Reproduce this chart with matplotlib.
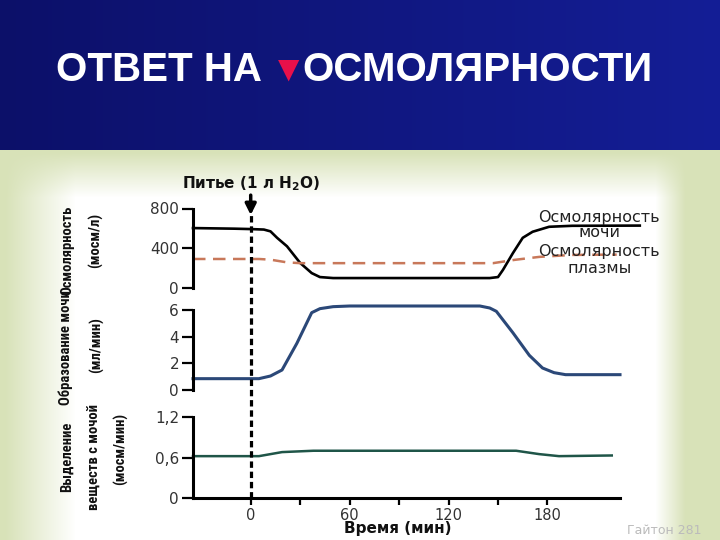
import numpy as np
import matplotlib.pyplot as plt
from matplotlib import font_manager

# osmolarity (mosm/l): urine and plasma
t_osm_urine = [-35, -10, 0, 8, 12, 16, 22, 30, 37, 42, 50, 145, 150, 153, 159, 165, 171, 181, 195, 236]
osm_urine = [603, 597, 593, 588, 570, 505, 420, 252, 150, 110, 100, 100, 110, 182, 350, 505, 566, 616, 626, 628]
t_osm_plasma = [-35, 5, 12, 22, 30, 147, 160, 175, 195, 222]
osm_plasma = [292, 292, 285, 258, 250, 250, 283, 313, 333, 336]

# urine formation (ml/min)
t_flow = [-35, 5, 12, 19, 28, 37, 42, 50, 60, 139, 145, 149, 159, 169, 177, 184, 191, 224]
flow = [0.85, 0.85, 1.05, 1.5, 3.5, 5.8, 6.1, 6.25, 6.3, 6.3, 6.15, 5.9, 4.3, 2.6, 1.65, 1.3, 1.15, 1.15]

# solute excretion (mosm/min)
t_solute = [-35, 5, 19, 38, 161, 175, 187, 219]
solute = [0.62, 0.62, 0.68, 0.70, 0.70, 0.65, 0.62, 0.63]

x_major = [0, 60, 120, 180]
x_minor = [30, 90, 150]
y1_ticks, y1_labels = [0, 400, 800], ['0', '400', '800']
y2_ticks, y2_labels = [0, 2, 4, 6], ['0', '2', '4', '6']
y3_ticks, y3_labels = [0, 0.6, 1.2], ['0', '0,6', '1,2']

W, H = 720, 540
XL = (-35, 224)


def fx(px):
    return px / W


def fy(py):
    return 1 - py / H


# pick a narrow bold face for the rotated axis titles if one is installed
names = {f.name for f in font_manager.fontManager.ttflist}
narrow = None
for cand in ['Liberation Sans Narrow', 'Arial Narrow', 'Roboto Condensed', 'DejaVu Sans Condensed']:
    if cand in names:
        narrow = cand
        break
condensed_dejavu = any(f.name == 'DejaVu Sans' and f.stretch == 'condensed' for f in font_manager.fontManager.ttflist)

fig = plt.figure(figsize=(7.2, 5.4), dpi=100)

# background: navy title band + pale green slide with white centre
yy, xx = np.mgrid[0:H, 0:W].astype(float)
img = np.zeros((H, W, 3))
g = xx / W
navy = np.stack([12 + 8 * g, 16 + 14 * g, 105 + 45 * g], axis=-1) / 255.0
green = np.array([216, 226, 184]) / 255.0
left = np.clip((xx - 5) / 70, 0, 1)
right = np.clip((685 - xx) / 30, 0, 1)
top = np.clip((yy - 152) / 45, 0, 1)
wgt = (left * right * top)[..., None]
img[:] = green * (1 - wgt) + 1.0 * wgt
img[yy < 150] = navy[yy < 150]
bg = fig.add_axes([0, 0, 1, 1])
bg.imshow(img, extent=(0, W, H, 0), aspect='auto', interpolation='bilinear')
bg.set_xlim(0, W)
bg.set_ylim(H, 0)
bg.axis('off')

# title
tfont = dict(color='white', fontsize=29, fontweight='bold', family='Liberation Sans', va='center')
fig.text(fx(262), fy(70), 'ОТВЕТ НА', ha='right', **tfont)
fig.text(fx(289), fy(70), '▼', ha='center', color='#e8104a', fontsize=20, va='center', family='DejaVu Sans')
fig.text(fx(302), fy(70), 'ОСМОЛЯРНОСТИ', ha='left', **tfont)

aw = (620 - 193) / W
ax1 = fig.add_axes([fx(193), fy(288), aw, (288 - 208.5) / H])
ax2 = fig.add_axes([fx(193), fy(390), aw, (390 - 310) / H])
ax3 = fig.add_axes([fx(193), fy(498), aw, (498 - 417) / H])

for ax in (ax1, ax2, ax3):
    ax.set_facecolor('none')
    ax.set_xlim(*XL)
    for s in ('top', 'right', 'bottom'):
        ax.spines[s].set_visible(False)
    ax.spines['left'].set_linewidth(2.2)
    ax.tick_params(axis='y', direction='out', length=8, width=1.6, pad=2,
                   labelsize=11, labelcolor='#333333')
    ax.set_xticks([])

ax1.plot(t_osm_urine, osm_urine, color='black', lw=1.9, clip_on=False)
ax1.plot(t_osm_plasma, osm_plasma, color='#c8785a', lw=1.8, ls=(0, (5, 3)), clip_on=False)
ax1.set_ylim(0, 800)
ax1.set_yticks(y1_ticks, y1_labels)

ax2.plot(t_flow, flow, color='#2b4878', lw=2.2, clip_on=False)
ax2.set_ylim(0, 6)
ax2.set_yticks(y2_ticks, y2_labels)

ax3.plot(t_solute, solute, color='#1f5548', lw=1.8, clip_on=False)
ax3.set_ylim(0, 1.2)
ax3.set_yticks(y3_ticks, y3_labels)
ax3.spines['bottom'].set_visible(True)
ax3.spines['bottom'].set_linewidth(2.2)
ax3.set_xticks(x_major, [str(v) for v in x_major])
ax3.set_xticks(x_minor, minor=True)
ax3.tick_params(axis='x', which='both', direction='out', length=5, width=1.6, pad=2,
                labelsize=10.5, labelcolor='#333333')

# curve labels
lab = dict(ha='center', va='center', fontsize=11.5, color='#222222')
ax1.text(211.5, 707, 'Осмолярность', **lab)
ax1.text(211.5, 556, 'мочи', **lab)
ax1.text(211.5, 370, 'Осмолярность', **lab)
ax1.text(211.5, 200, 'плазмы', **lab)

# drinking marker across all panels
ov = fig.add_axes([fx(193), fy(498), aw, (498 - 215) / H])
ov.set_xlim(*XL)
ov.set_ylim(0, 1)
ov.axis('off')
ov.plot([0, 0], [0, 1], color='black', lw=2.3, ls=(0, (2, 1.2)))
ov.annotate('', xy=(0, 0.99), xytext=(0, 1.08),
            arrowprops=dict(arrowstyle='-|>', color='black', lw=2.5, mutation_scale=16),
            annotation_clip=False)
ov.text(0, 1.11, r'Питье (1 л H$_\mathbf{2}$O)', ha='center', va='center',
        fontsize=11, fontweight='bold', color='#111111')

fig.text(fx(398), fy(529), 'Время (мин)', ha='center', va='center',
         fontsize=11, fontweight='bold', color='#111111')

# y axis titles
if narrow:
    yfont = dict(family=[narrow, 'DejaVu Sans'], fontsize=10.5)
elif condensed_dejavu:
    yfont = dict(family='DejaVu Sans', fontstretch='condensed', fontsize=8.8)
else:
    yfont = dict(family='Liberation Sans', fontsize=8.5)
yfont.update(rotation=90, ha='center', va='center', fontweight='bold', color='#111111')
fig.text(fx(67), fy(250), 'Осмолярность', **yfont)
fig.text(fx(96), fy(240), '(мосм/л)', **yfont)
fig.text(fx(66), fy(348), 'Образование мочи', **yfont)
fig.text(fx(97), fy(345), '(мл/мин)', **yfont)
fig.text(fx(67), fy(457), 'Выделение', **yfont)
fig.text(fx(95), fy(457), 'веществ с мочой', **yfont)
fig.text(fx(121), fy(449), '(мосм/мин)', **yfont)

fig.text(fx(664), fy(531), 'Гайтон 281', ha='center', va='center', fontsize=9, color='#bbbbbb')

fig.savefig('out.png', dpi=100)
